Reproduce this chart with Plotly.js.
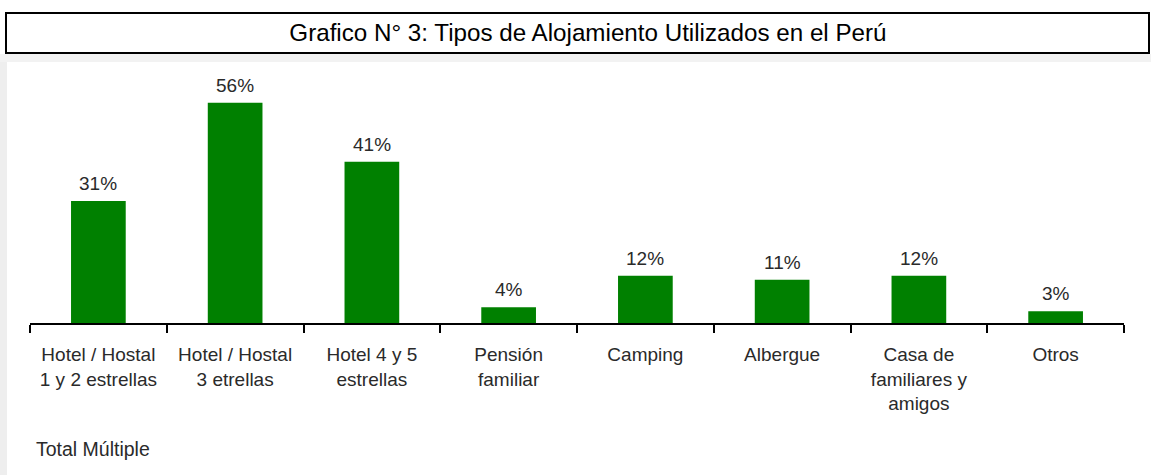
<!DOCTYPE html>
<html>
<head>
<meta charset="utf-8">
<script src="https://cdn.plot.ly/plotly-3.0.1.min.js"></script>
<style>html,body{margin:0;padding:0;background:#fff;}#chart{width:1151px;height:475px;}</style>
</head>
<body>
<div id="chart"></div>
<script>
const categories = [
  "Hotel / Hostal<br>1 y 2 estrellas",
  "Hotel / Hostal<br>3 etrellas",
  "Hotel 4 y 5<br>estrellas",
  "Pensión<br>familiar",
  "Camping",
  "Albergue",
  "Casa de<br>familiares y<br>amigos",
  "Otros"
];
const values = [31, 56, 41, 4, 12, 11, 12, 3];
const valueLabels = ["31%", "56%", "41%", "4%", "12%", "11%", "12%", "3%"];

const W = 1151, H = 475;
const L = 30, R = 27, T = 68, B = 152;
const pw = W - L - R, ph = H - T - B;
const px = v => (v - L) / pw;
const py = v => (H - B - v) / ph;

const trace = {
  type: 'bar',
  x: categories,
  y: values,
  width: 0.4,
  marker: {color: '#008000', line: {width: 0}},
  hoverinfo: 'none'
};

const annotations = categories.map((c, i) => ({
  x: c, y: values[i], xref: 'x', yref: 'y',
  text: valueLabels[i], showarrow: false,
  yanchor: 'bottom', yshift: 5,
  font: {family: 'Liberation Sans, Arial, sans-serif', size: 19, color: '#2a2a2a'}
}));
annotations.push({
  xref: 'paper', yref: 'paper', x: px(34), y: py(449),
  xanchor: 'left', yanchor: 'middle', showarrow: false,
  text: 'Total Múltiple',
  font: {family: 'Liberation Sans, Arial, sans-serif', size: 19.5, color: '#2a2a2a'}
});

const layout = {
  width: W, height: H,
  margin: {l: L, r: R, t: T, b: B, pad: 0},
  paper_bgcolor: '#ffffff',
  plot_bgcolor: '#ffffff',
  showlegend: false,
  title: {
    text: 'Grafico N° 3: Tipos de Alojamiento Utilizados en el Perú',
    x: 587 / W, xanchor: 'center', xref: 'paper',
    y: 1 - 33 / H, yanchor: 'middle', yref: 'container',
    font: {family: 'Liberation Sans Narrow, Arial Narrow, Liberation Sans, sans-serif', size: 24.2, color: '#000'}
  },
  xaxis: {
    type: 'category',
    showline: true, linecolor: '#000', linewidth: 2,
    ticks: 'outside', tickson: 'boundaries', ticklen: 8, tickwidth: 2, tickcolor: '#000',
    showgrid: false, zeroline: false,
    tickfont: {family: 'Liberation Sans, Arial, sans-serif', size: 19, color: '#2a2a2a'},
    ticklabelstandoff: 13,
    fixedrange: true
  },
  yaxis: {
    range: [0, 64.8],
    visible: false, showgrid: false, zeroline: false, fixedrange: true
  },
  shapes: [
    {type: 'rect', xref: 'paper', yref: 'paper', x0: px(0), x1: px(7), y0: py(475), y1: py(55),
     fillcolor: '#eeeeee', line: {width: 0}, layer: 'below'},
    {type: 'rect', xref: 'paper', yref: 'paper', x0: px(0), x1: px(1151), y0: py(62), y1: py(54),
     fillcolor: '#f2f2f2', line: {width: 0}, layer: 'below'},
    {type: 'rect', xref: 'paper', yref: 'paper', x0: px(6), x1: px(1149), y0: py(53), y1: py(13),
     fillcolor: 'rgba(0,0,0,0)', line: {color: '#000', width: 2}}
  ],
  annotations: annotations,
  bargap: 0.6
};

Plotly.newPlot('chart', [trace], layout, {displayModeBar: false, staticPlot: true});
</script>
</body>
</html>
